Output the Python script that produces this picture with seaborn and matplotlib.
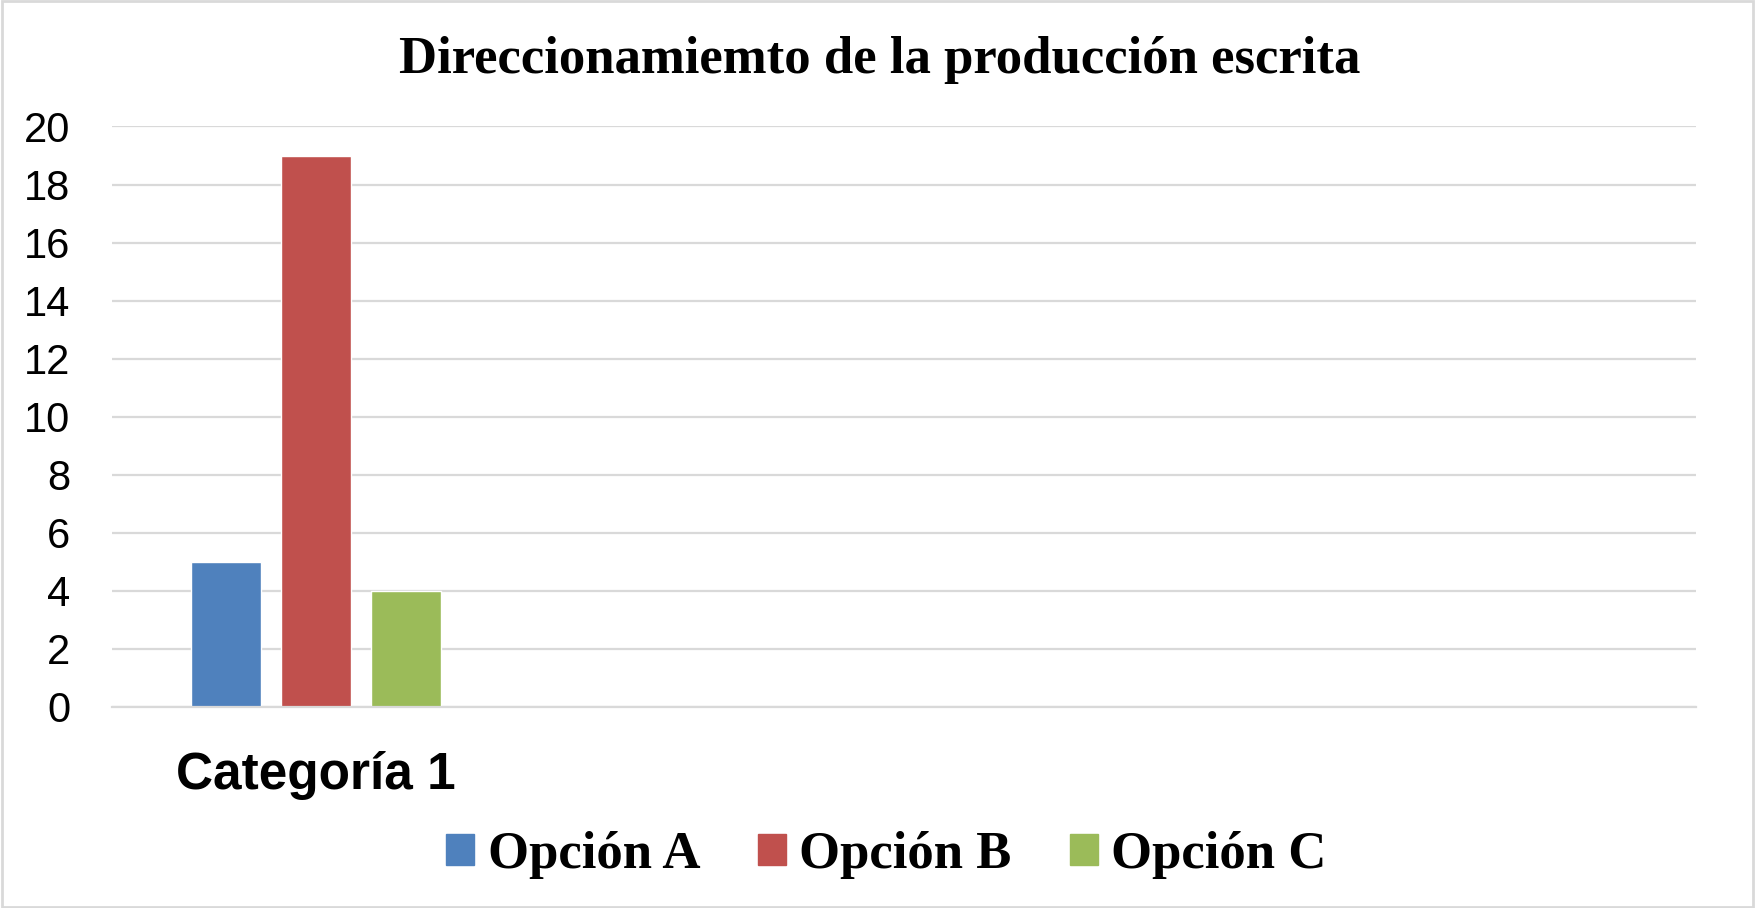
import numpy as np
import pandas as pd
import matplotlib
matplotlib.use('Agg')
import matplotlib.pyplot as plt
import seaborn as sns

# data
categories = ['Categoría 1']
options = ['Opción A', 'Opción B', 'Opción C']
values = [5, 19, 4]
colors = ['#4F81BD', '#C0504D', '#9BBB59']
y_ticks = [0, 2, 4, 6, 8, 10, 12, 14, 16, 18, 20]
n_slots = 4  # Excel kept room for four categories

df = pd.DataFrame({
    'Categoría': [categories[0]] * len(options),
    'Opción': options,
    'Valor': values,
})

sns.set_theme(style='white')
plt.rcParams['font.family'] = ['Liberation Sans', 'DejaVu Sans']
plt.rcParams['text.color'] = 'black'

fig = plt.figure(figsize=(17.55, 9.08), dpi=100)
ax = fig.add_axes([0.0638, 0.2214, 0.9026, 0.6393])

sns.barplot(data=df, x='Categoría', y='Valor', hue='Opción',
            palette=colors, width=0.68, gap=0.22, saturation=1,
            ax=ax, legend=False)

ax.set_xlim(-0.515, n_slots - 0.515)
ax.set_ylim(0, 20)
ax.set_yticks(y_ticks)
ax.yaxis.grid(True, color='#D9D9D9', linewidth=1.6)
ax.set_axisbelow(True)
for s in ['left', 'right', 'top']:
    ax.spines[s].set_visible(False)
ax.spines['bottom'].set_color('#D9D9D9')
ax.spines['bottom'].set_linewidth(1.6)
ax.tick_params(axis='y', length=0, pad=30, labelsize=30, labelcolor='black')
ax.tick_params(axis='x', length=0, pad=32, labelsize=37, labelcolor='black')
for lbl in ax.get_xticklabels():
    lbl.set_fontweight('bold')
ax.set_xlabel('')
ax.set_ylabel('')

fig.text(0.501, 1 - 60 / 908, 'Direccionamiemto de la producción escrita',
         ha='center', va='center', fontsize=38, fontweight='bold',
         family='Liberation Serif')

handles = [plt.Rectangle((0, 0), 1, 1, color=c) for c in colors]
fig.legend(handles, options, loc='center', bbox_to_anchor=(0.505, 1 - 855 / 908),
           ncol=3, frameon=False, handlelength=0.53, handleheight=0.53,
           handletextpad=0.25, columnspacing=1.1,
           prop={'family': 'Liberation Serif', 'weight': 'bold', 'size': 38})

fig.patches.append(plt.Rectangle((0.001, 0.001), 0.998, 0.998, transform=fig.transFigure,
                                 fill=False, edgecolor='#D9D9D9', linewidth=2))

fig.savefig('out.png', dpi=100)
